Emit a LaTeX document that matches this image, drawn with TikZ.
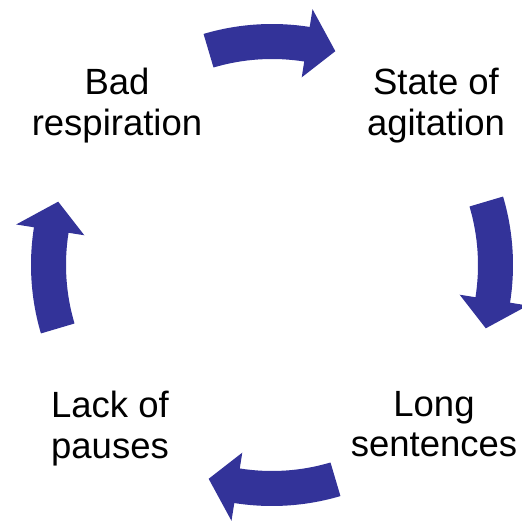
\documentclass[tikz,border=0pt]{standalone}
\usepackage{fontspec}
\setmainfont{Liberation Sans}
\definecolor{cycleblue}{RGB}{51,51,153}

\begin{document}
\begin{tikzpicture}[
  x=1pt, y=1pt,
  every node/.style={font=\fontsize{36.5}{40.5}\selectfont},
  phase/.style={align=center, inner sep=0pt, anchor=north},
  turn/.style={fill=cycleblue}
]
\useasboundingbox (0,0) rectangle (522,525);
\coordinate (hub) at (272,260);

\node[phase] (bad) at (117,457) {Bad\\respiration};
\node[phase] (state) at (436,457) {State of\\agitation};
\node[phase] (long) at (434,134) {Long\\sentences};
\node[phase] (lack) at (110,134) {Lack of\\pauses};

% curved block arrows, clockwise round the hub
\foreach \c in {90,0,-90,180}
  \fill[turn, shift={(hub)}] (\c+16.5:241) arc[start angle=\c+16.5, end angle=\c-9, radius=241]
    -- (\c-9:259) -- (\c-16.5:223) -- (\c-9:190) -- (\c-9:206)
    arc[start angle=\c-9, end angle=\c+16.5, radius=206] -- cycle;
\end{tikzpicture}
\end{document}
